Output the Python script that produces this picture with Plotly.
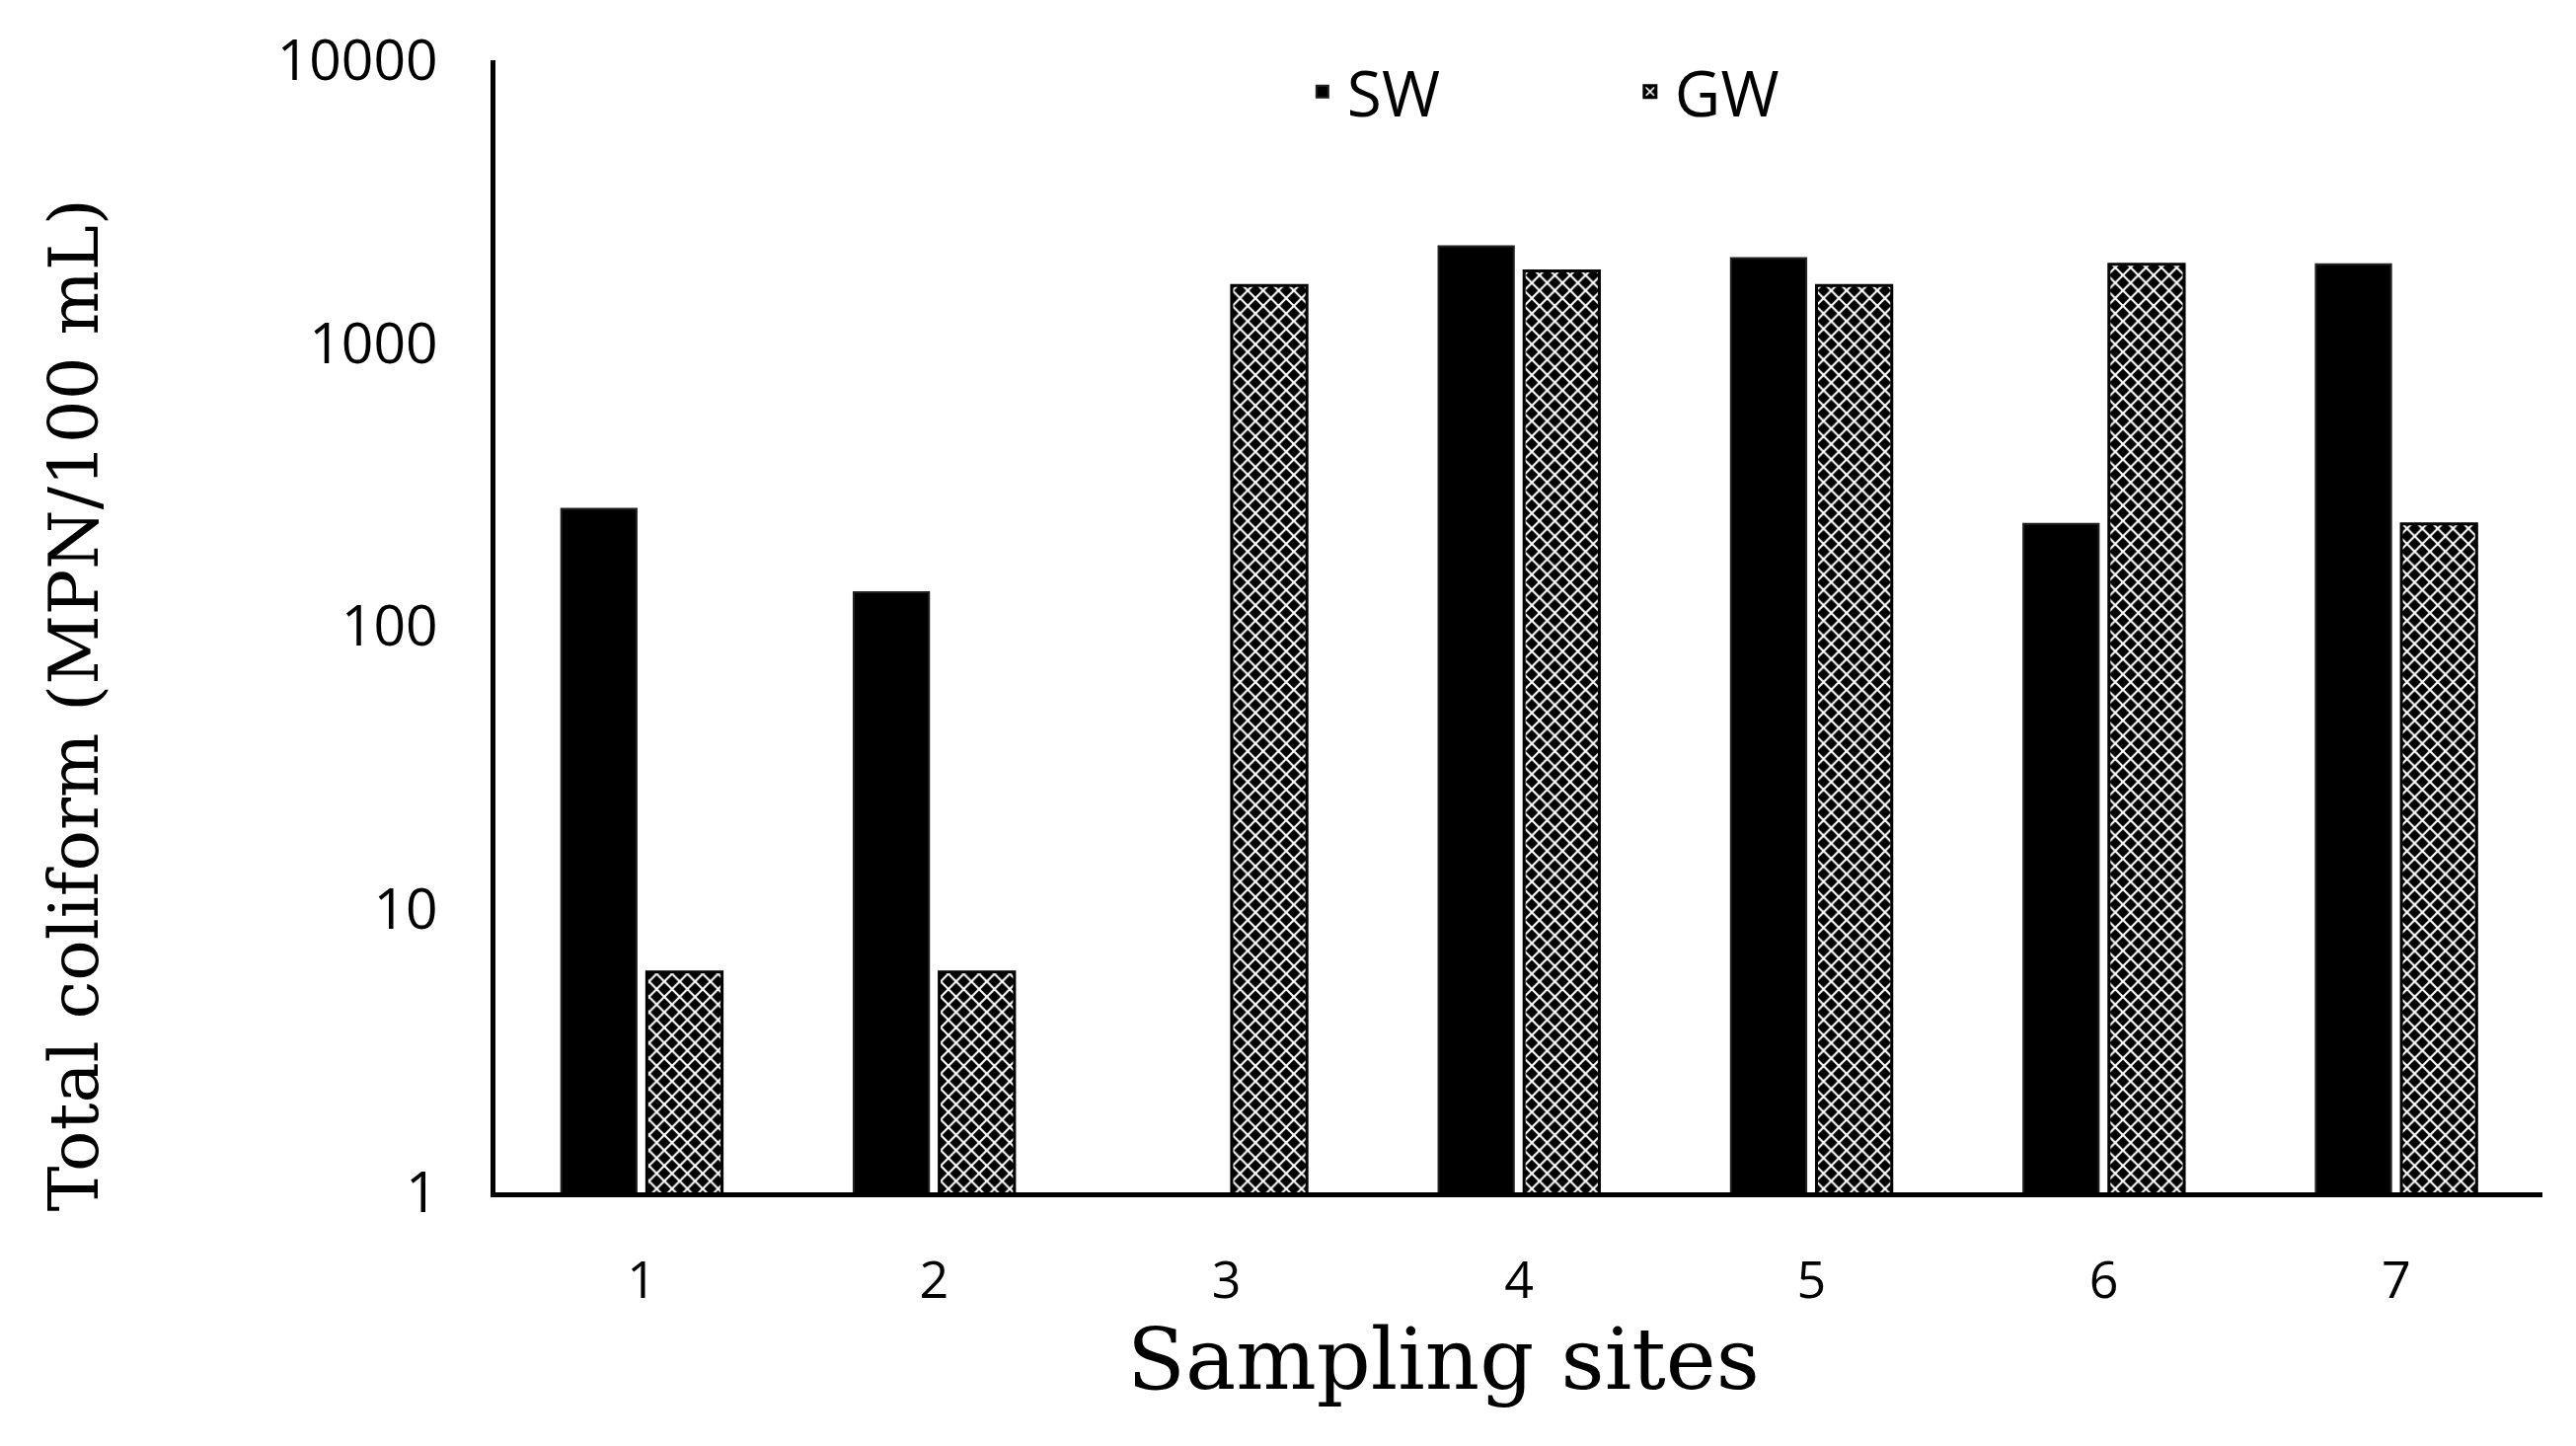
import plotly.graph_objects as go

sites = ["1", "2", "3", "4", "5", "6", "7"]
sw_values = [260, 132, None, 2200, 2000, 230, 1900]
gw_values = [6, 6, 1600, 1800, 1600, 1900, 230]
y_tick_vals = [1, 10, 100, 1000, 10000]
y_tick_text = ["1", "10", "100", "1000", "10000"]

fig = go.Figure()
fig.add_trace(go.Bar(
    x=sites, y=sw_values, name="SW",
    marker=dict(color="black", line=dict(color="#222222", width=2)),
))
fig.add_trace(go.Bar(
    x=sites, y=gw_values, name="GW",
    marker=dict(
        color="black",
        line=dict(color="black", width=3),
        pattern=dict(shape="x", bgcolor="black", fgcolor="white",
                     size=11, solidity=0.35, fillmode="replace"),
    ),
))

fig.update_layout(
    width=2610, height=1465,
    paper_bgcolor="white", plot_bgcolor="white",
    margin=dict(l=494, r=42, t=30, b=265),
    barmode="group", bargap=0.415, bargroupgap=0.12,
    font=dict(family="Open Sans", color="black"),
    legend=dict(
        orientation="h", x=0.552, y=0.972, xanchor="center", yanchor="middle",
        font=dict(family="Open Sans", size=64, color="black"),
        entrywidth=277, itemwidth=40, bgcolor="rgba(0,0,0,0)",
    ),
    showlegend=True,
    annotations=[
        dict(text="Total coliform (MPN/100 mL)", xref="paper", yref="paper",
             x=-0.206, y=0.43, xanchor="center", yanchor="middle",
             textangle=-90, showarrow=False,
             font=dict(family="DejaVu Serif", size=69, color="black")),
        dict(text="Sampling sites", xref="paper", yref="paper",
             x=0.463, y=-0.147, xanchor="center", yanchor="middle",
             showarrow=False,
             font=dict(family="DejaVu Serif", size=86, color="black")),
    ],
)
fig.update_xaxes(
    type="category", range=[-0.5, 6.5],
    showline=True, linecolor="black", linewidth=5,
    showgrid=False, ticks="", ticklabelstandoff=40,
    tickfont=dict(family="Open Sans", size=52, color="black"),
)
fig.update_yaxes(
    type="log", range=[0, 4],
    tickvals=y_tick_vals, ticktext=y_tick_text,
    showline=True, linecolor="black", linewidth=5,
    showgrid=False, zeroline=False, ticks="", ticklabelstandoff=42,
    ticklabeloverflow="allow",
    tickfont=dict(family="Open Sans", size=57, color="black"),
)

fig.write_html("out.html")
